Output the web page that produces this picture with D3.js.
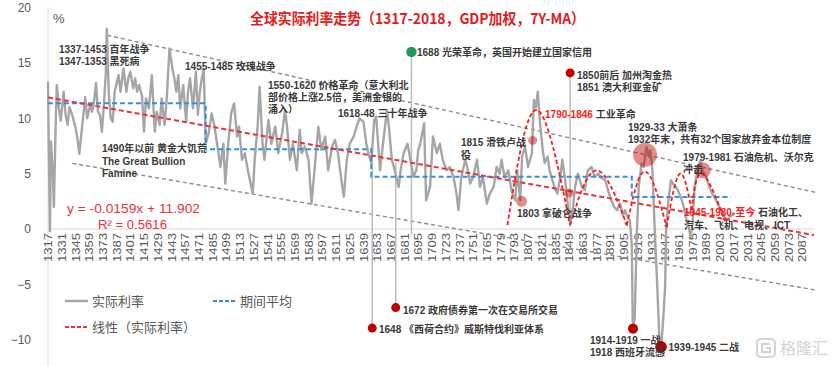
<!DOCTYPE html>
<html><head><meta charset="utf-8">
<script src="https://cdn.jsdelivr.net/npm/d3@7"></script>
<style>
body{margin:0;background:#fff;}
svg{display:block;}
</style></head><body>
<svg id="chart" width="832" height="366"></svg>
<script>
// ---------------- DATA ----------------
const realYears = [1317,1318,1319,1320,1322,1323,1325,1326,1328,1330,1333,1335,1337,1339,1342,1345,1347,1349,1352,1355,1357,1360,1362,1364,1366,1368,1370,1372,1374,1376,1377,1379,1381,1383,1385,1389,1391,1394,1397,1399,1401,1404,1406,1408,1410,1413,1415,1417,1420,1423,1426,1428,1431,1433,1436,1438,1441,1444,1446,1448,1450,1452,1455,1458,1460,1462,1465,1468,1470,1472,1474,1476,1478,1481,1484,1487,1491,1493,1496,1498,1501,1504,1507,1510,1512,1515,1518,1521,1526,1528,1531,1533,1536,1538,1542,1545,1549,1552,1556,1559,1561,1564,1567,1571,1574,1576,1579,1583,1586,1590,1593,1596,1600,1603,1607,1610,1613,1617,1619,1622,1625,1629,1632,1635,1639,1642,1644,1647,1650,1652,1656,1659,1663,1665,1668,1671,1675,1677,1680,1684,1687,1690,1693,1695,1697,1701,1703,1707,1710,1714,1717,1720,1724,1727,1731,1734,1736,1739,1743,1745,1748,1751,1755,1758,1761,1765,1768,1772,1775,1778,1780,1783,1787,1790,1794,1796,1799,1801,1804,1807,1811,1813,1815,1817,1819,1822,1824,1827,1829,1832,1834,1837,1840,1842,1845,1847,1850,1853,1855,1858,1862,1865,1868,1872,1875,1879,1882,1886,1889,1892,1895,1898,1901,1904,1906,1909,1911,1913,1914,1916,1918,1920,1923,1925,1928,1931,1932,1934,1936,1939,1941,1943,1945,1947,1948,1950,1953,1955,1958,1960,1963,1966,1968,1971,1973,1975,1977,1980,1983,1985,1989,1992,1995,1999,2002,2006,2009,2013,2018];
const realValues = [13.3,6.0,-0.2,7.9,5.0,2.0,10.0,13.0,11.0,9.8,12.4,10.3,9.4,11.0,10.2,9.2,8.2,6.8,9.4,11.9,10.0,11.2,10.6,11.5,13.2,10.6,10.3,8.8,11.2,14.0,18.1,12.4,10.0,9.7,12.4,13.9,12.4,14.5,12.4,13.6,14.2,12.7,13.6,12.4,13.0,12.0,8.8,11.8,10.9,13.9,8.8,10.6,9.4,11.8,9.4,11.5,16.3,14.5,13.6,12.4,13.9,10.9,13.0,9.7,12.4,13.6,10.9,14.2,10.3,12.4,13.6,14.4,7.7,8.65,10.45,9.25,6.85,5.6,7.7,4.1,7.7,10.45,11.35,8.35,9.25,6.25,6.85,5.3,3.2,6.25,9.25,12.85,7.7,6.25,9.85,7.7,9.25,6.85,8.65,10.75,9.25,6.25,7.7,5.3,8.95,6.85,7.45,6.25,2.3,6.25,9.25,7.15,8.35,5.3,7.45,8.05,6.85,4.1,2.9,6.25,7.7,8.35,9.25,10.0,9.7,7.7,6.85,5.95,9.85,10.15,5.3,7.7,10.75,9.25,6.25,5.3,3.8,5.3,6.85,7.7,6.25,4.7,5.3,7.15,7.7,9.55,2.6,3.8,8.35,6.85,7.7,6.25,5.3,5.6,4.7,3.2,1.7,4.7,6.25,5.6,4.1,4.7,6.25,3.8,4.7,2.3,3.2,3.8,5.6,5.0,6.25,4.7,5.3,3.5,2.6,5.3,2.6,6.55,7.45,5.6,6.85,11.65,11.0,12.4,9.85,7.15,5.95,6.55,5.3,4.4,3.8,3.2,4.7,6.25,4.4,2.6,0.5,2.0,3.8,5.0,3.8,3.5,5.3,5.6,4.7,5.0,4.6,4.4,3.4,2.6,2.0,1.7,2.3,1.2,1.7,1.0,0.8,-1.5,-9.0,-8.0,-0.7,3.8,5.9,5.6,7.4,6.5,7.1,5.3,0.8,-5.2,-9.7,-10.6,-8.2,-5.2,-0.1,2.3,4.4,4.1,3.8,3.5,2.9,2.0,1.1,0.2,-0.7,0.5,3.8,5.3,6.2,5.3,4.7,3.8,3.2,2.6,2.0,1.4,0.8,1.1,1.4];

const tickYears = d3.range(1317, 2088, 14);
const yTicks = [-10, -5, 0, 5, 10, 15, 20];

// period averages (blue dashed steps)
const periodStarts = [1317, 1478, 1647, 1913];
const periodEnds   = [1478, 1647, 1913, 2014];
const periodValues = [11.35, 7.2, 4.72, 2.9];

// linear trend (red dashed) endpoints
const trendYears  = [1317, 2099];
const trendValues = [11.89, -0.55];

// channel (gray dashed)
const upperYears  = [1377.5, 2101];
const upperValues = [17.5, 3.3];
const lowerYears  = [1341.8, 2100];
const lowerValues = [5.93, -5.5];

// long waves (red dashed arches): start, peak, end
const waveYears  = [[1786,1815.5,1850],[1850,1877,1908],[1908,1926.5,1948.5],[1948.5,1962,1974],[1974,1984.5,2008]];
const waveValues = [[0.35,10.75,0.35],[0.35,5.3,0.35],[0.35,5.2,0.2],[0.2,5.0,1.7],[1.7,5.0,0.8]];

// highlight circles
const circleYears  = [1926.5, 1985.5, 1811.8, 1800.5, 1849];
const circleValues = [6.7, 5.3, 8.0, 2.5, 3.25];

// event dots
const dotYears  = [1648, 1672, 1688, 1850, 1914.2, 1942.8];
const dotValues = [-8.95, -7.1, 16.0, 14.1, -9.0, -10.65];
const stemEnds  = [6.5, 6.0, -0.5, 0.2, null, null];

// annotations: text, year, value
const annoTexts = ["1337-1453 百年战争","1347-1353 黑死病","1455-1485  玫瑰战争","1550-1620 价格革命（意大利北","部价格上涨2.5倍，美洲金银的","涌入）","1618-48 三十年战争","1688 光荣革命，英国开始建立国家信用","1850前后 加州淘金热","1851  澳大利亚金矿","1929-33 大萧条","1932年末，共有32个国家放弃金本位制度","1979-1981 石油危机、沃尔克","冲击","1815 滑铁卢战","役","1803 拿破仑战争","汽车、飞机、电视、ICT","1490年以前 黄金大饥荒","The Great Bullion","Famine","1672 政府债券第一次在交易所交易","1648 《西荷合约》威斯特伐利亚体系","1914-1919 一战","1918  西班牙流感","1939-1945 二战"];
const annoYears  = [1328.2,1328.2,1456.9,1541.6,1541.6,1541.6,1613,1693.7,1857,1857,1909.1,1909.1,1965.3,1965.3,1738.6,1738.6,1795.8,1966.3,1372.1,1372.1,1372.1,1679.4,1654.9,1870.3,1870.3,1950.4];
const annoValues = [16.2,15.13,14.72,12.92,11.84,10.84,10.39,15.94,13.91,12.78,9.21,8.08,6.5,5.37,7.77,6.64,1.36,0.32,7.23,6.1,4.97,-7.36,-9.08,-10.07,-11.2,-10.7];
// mixed red/black annotations
const mixedRed   = ["1790-1846", "1945-1980-至今"];
const mixedBlack = [" 工业革命", " 石油化工、"];
const mixedYears = [1824.4, 1966.3];
const mixedValues= [10.34, 1.45];

const eqTexts  = ["y = -0.0159x + 11.902", "R² = 0.5616"];
const eqYears  = [1336.4, 1368];
const eqValues = [1.9, 0.45];

const legendLabels = ["实际利率", "期间平均", "线性（实际利率）"];
const titleText = "全球实际利率走势（1317-2018，GDP加权，7Y-MA）";

// ---------------- DRAW ----------------
const svg = d3.select("#chart");
const x = d3.scaleLinear().domain([1317, 2100]).range([48, 815]);
const y = d3.scaleLinear().domain([-10, 20]).range([339.7, 7.6]);

const CJK = "'Noto Sans CJK SC','Noto Sans',sans-serif";
const ANN = "'Liberation Sans','Noto Sans CJK SC',sans-serif";
const LAT = "'Liberation Sans',Arial,sans-serif";

const defs = svg.append("defs");
defs.append("marker").attr("id","arr").attr("viewBox","0 0 10 10")
  .attr("refX",6).attr("refY",5).attr("markerWidth",4).attr("markerHeight",4)
  .attr("orient","auto").attr("markerUnits","userSpaceOnUse")
  .append("path").attr("d","M0,0L10,5L0,10z").attr("fill","#ff1a1a");

// y axis
svg.append("line").attr("x1",x(1317)).attr("x2",x(1317)).attr("y1",y(20)).attr("y2",366)
  .attr("stroke","#d9d9d9").attr("stroke-width",1);
const ya = svg.append("g").attr("transform",`translate(${x(1317)},0)`)
  .call(d3.axisLeft(y).tickValues(yTicks).tickSize(0).tickPadding(17).tickFormat(d3.format("d")));
ya.select(".domain").remove();
ya.selectAll("text").attr("font-family",LAT).attr("font-size",12).attr("fill","#595959");

// x axis
const xa = svg.append("g").attr("transform",`translate(0,${y(0)})`)
  .call(d3.axisBottom(x).tickValues(tickYears).tickSize(0).tickFormat(d3.format("d")));
xa.select(".domain").attr("stroke","#d9d9d9").attr("d",`M${x(1317)},0H${x(2098)}`);
xa.selectAll("text").attr("transform","rotate(-90)").attr("x",-4).attr("y",0).attr("dy","0.35em")
  .style("text-anchor","end").attr("font-family",LAT).attr("font-size",10.5).attr("fill","#595959")
  .attr("textLength",29).attr("lengthAdjust","spacingAndGlyphs");

// % label
svg.append("text").attr("x",53).attr("y",23).attr("font-family",LAT).attr("font-size",13)
  .attr("fill","#595959").text("%");

// channel lines
const line2 = (ys, vs) => d3.line().x((d,i)=>x(ys[i])).y((d,i)=>y(vs[i]))(ys);
svg.append("path").attr("d",line2(upperYears,upperValues)).attr("fill","none")
  .attr("stroke","#8c8c8c").attr("stroke-width",1.4).attr("stroke-dasharray","4,3");
svg.append("path").attr("d",line2(lowerYears,lowerValues)).attr("fill","none")
  .attr("stroke","#8c8c8c").attr("stroke-width",1.4).attr("stroke-dasharray","4,3");

// event stems
dotYears.forEach((yr,i)=>{
  if (stemEnds[i]===null) return;
  svg.append("line").attr("x1",x(yr)).attr("x2",x(yr)).attr("y1",y(dotValues[i])).attr("y2",y(stemEnds[i]))
    .attr("stroke","#bfbfbf").attr("stroke-width",1.6);
});

// real rate line
const realLine = d3.line().x((d,i)=>x(realYears[i])).y((d,i)=>y(realValues[i]));
svg.append("path").attr("d",realLine(realYears)).attr("fill","none")
  .attr("stroke","#a6a6a6").attr("stroke-width",2.4).attr("stroke-linejoin","round");

// period averages
let stepPts = [];
periodStarts.forEach((s,i)=>{ stepPts.push([s,periodValues[i]]); stepPts.push([periodEnds[i],periodValues[i]]); });
svg.append("path").attr("d",d3.line().x(d=>x(d[0])).y(d=>y(d[1]))(stepPts)).attr("fill","none")
  .attr("stroke","#3a8fd8").attr("stroke-width",2).attr("stroke-dasharray","5,3");

// trend
svg.append("path").attr("d",line2(trendYears,trendValues)).attr("fill","none")
  .attr("stroke","#e8343a").attr("stroke-width",2).attr("stroke-dasharray","5,3");

// waves
const waveLine = d3.line().x(d=>x(d[0])).y(d=>y(d[1])).curve(d3.curveNatural);
waveYears.forEach((ws,i)=>{
  const pts = ws.map((w,j)=>[w, waveValues[i][j]]);
  const p = svg.append("path").attr("d",waveLine(pts)).attr("fill","none")
    .attr("stroke","#ff1a1a").attr("stroke-width",1.8).attr("stroke-dasharray","4,2.5");
  if (i===1 || i===2 || i===4) p.attr("marker-end","url(#arr)");
});

// highlight circles
const circleR = [12, 8, 4.5, 5.5, 4.5];
circleYears.forEach((yr,i)=>{
  svg.append("circle").attr("cx",x(yr)).attr("cy",y(circleValues[i])).attr("r",circleR[i])
    .attr("fill","#c00000").attr("fill-opacity",0.45);
});

// event dots
const dotR = [4.5,4.5,5.2,4.5,5,5.8];
dotYears.forEach((yr,i)=>{
  svg.append("circle").attr("cx",x(yr)).attr("cy",y(dotValues[i])).attr("r",dotR[i])
    .attr("fill", yr===1688 ? "#1e9a5c" : "#c00000");
});

// annotations
annoTexts.forEach((t,i)=>{
  svg.append("text").attr("x",x(annoYears[i])).attr("y",y(annoValues[i])).attr("dy","0.35em")
    .attr("font-family",ANN).attr("font-size",10).attr("font-weight","bold").attr("fill","#3a3a3a").text(t);
});
mixedRed.forEach((t,i)=>{
  const tx = svg.append("text").attr("x",x(mixedYears[i])).attr("y",y(mixedValues[i])).attr("dy","0.35em")
    .attr("font-family",ANN).attr("font-size",10).attr("font-weight","bold");
  tx.append("tspan").attr("fill","#ff1a1a").text(t);
  tx.append("tspan").attr("fill","#3a3a3a").text(mixedBlack[i]);
});
svg.append("text").attr("x",x(eqYears[0])).attr("y",y(eqValues[0])).attr("dy","0.35em")
  .attr("font-family",LAT).attr("font-size",13).attr("fill","#e8343a")
  .attr("textLength",133).attr("lengthAdjust","spacingAndGlyphs").text(eqTexts[0]);
svg.append("text").attr("x",x(eqYears[1])).attr("y",y(eqValues[1])).attr("dy","0.35em")
  .attr("font-family",LAT).attr("font-size",13).attr("fill","#e8343a")
  .attr("textLength",69).attr("lengthAdjust","spacingAndGlyphs").text(eqTexts[1]);

// title
svg.append("text").attr("x",250).attr("y",18.5).attr("dy","0.35em")
  .attr("font-family",CJK).attr("font-size",15).attr("font-weight","bold").attr("fill","#e02020")
  .attr("textLength",335).attr("lengthAdjust","spacingAndGlyphs").text(titleText);

// legend
const lg = svg.append("g");
lg.append("line").attr("x1",65).attr("x2",88).attr("y1",301).attr("y2",301).attr("stroke","#a6a6a6").attr("stroke-width",2.4);
lg.append("line").attr("x1",213).attr("x2",237).attr("y1",301).attr("y2",301).attr("stroke","#3a8fd8").attr("stroke-width",2).attr("stroke-dasharray","4,2");
lg.append("line").attr("x1",65).attr("x2",88).attr("y1",327).attr("y2",327).attr("stroke","#e8343a").attr("stroke-width",2).attr("stroke-dasharray","4,2");
[[92,301],[240,301],[92,327]].forEach((p,i)=>{
  lg.append("text").attr("x",p[0]).attr("y",p[1]).attr("dy","0.35em").attr("font-family",CJK)
    .attr("font-size",13).attr("fill","#595959").text(legendLabels[i]);
});

// watermark
const wm = svg.append("g").attr("opacity",0.9);
wm.append("rect").attr("x",757).attr("y",339).attr("width",18).attr("height",18).attr("rx",4)
  .attr("fill","none").attr("stroke","#cfcfcf").attr("stroke-width",2);
wm.append("path").attr("d","M770,344H762V352H770V348H766").attr("fill","none").attr("stroke","#cfcfcf").attr("stroke-width",2);
wm.append("text").attr("x",780).attr("y",348).attr("dy","0.35em").attr("font-family",CJK)
  .attr("font-size",16).attr("fill","#d0d0d0").text("格隆汇");
</script>
</body></html>
